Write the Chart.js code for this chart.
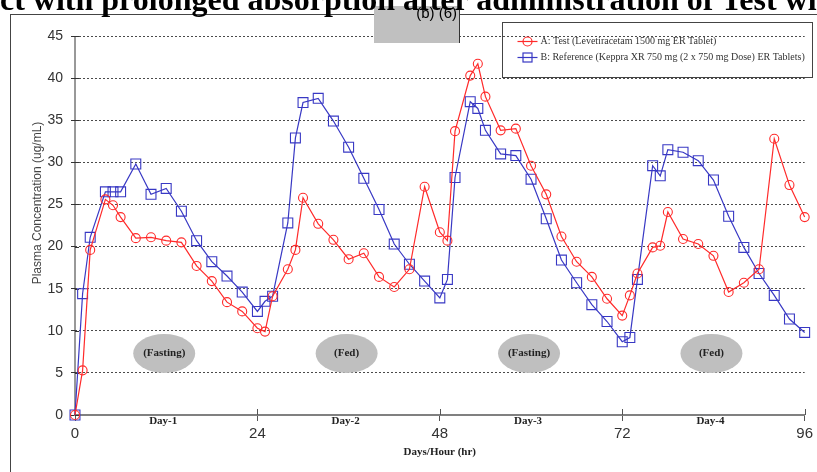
<!DOCTYPE html>
<html>
<head>
<meta charset="utf-8">
<script src="https://cdn.jsdelivr.net/npm/chart.js@4.4.1/dist/chart.umd.min.js"></script>
<style>
    body { margin: 0; background: #fff; overflow: hidden; }
    #wrap { position: relative; width: 817px; height: 472px; overflow: hidden; }
    #heading {
        position: absolute; left: 0; top: -17px; z-index: 3;
        font: bold 32px "Liberation Serif", "Times New Roman", serif;
        line-height: 32px; white-space: nowrap; color: #000;
    }
    #frame {
        position: absolute; left: 10px; top: 14px; width: 900px; height: 600px;
        border-left: 1.5px solid #444; border-top: 1.5px solid #444;
    }
    #redact {
        position: absolute; left: 374px; top: 6px; width: 85px; height: 37px; z-index: 2;
        background: #c0c0c0; border-right: 1px solid #333;
    }
    #redact span {
        position: absolute; right: 2px; top: -2px;
        font: 15px "Liberation Sans", Arial, sans-serif; color: #000;
    }
    #plasma { position: absolute; left: 0; top: 0; z-index: 1; }
</style>
</head>
<body>
<div id="wrap">
    <div id="heading">ct with prolonged absorption after administration of Test wi</div>
    <div id="frame"></div>
    <div id="redact"><span>(b) (6)</span></div>
    <canvas id="plasma" width="817" height="472"></canvas>
</div>
<script>
// sampling times (hr) over the four dosing days
var hours = [0, 1, 2, 4, 5, 6, 8, 10, 12, 14, 16, 18, 20, 22,
    24, 25, 26, 28, 29, 30, 32, 34, 36, 38, 40, 42, 44, 46,
    48, 49, 50, 52, 53, 54, 56, 58, 60, 62, 64, 66, 68, 70,
    72, 73, 74, 76, 77, 78, 80, 82, 84, 86, 88, 90, 92, 94, 96];

// mean plasma levetiracetam (ug/mL)
var testLevels = [0, 5.3, 19.6, 25.6, 24.9, 23.5, 21.0, 21.1, 20.7, 20.5, 17.7, 15.9, 13.4, 12.3,
    10.3, 9.9, 14.1, 17.3, 19.6, 25.8, 22.7, 20.8, 18.5, 19.2, 16.4, 15.2, 17.3, 27.1,
    21.7, 20.7, 33.7, 40.3, 41.7, 37.8, 33.8, 34.0, 29.6, 26.2, 21.2, 18.2, 16.4, 13.8,
    11.8, 14.2, 16.8, 19.9, 20.1, 24.1, 20.9, 20.3, 18.9, 14.6, 15.7, 17.3, 32.8, 27.3, 23.5];

var refLevels = [0, 14.4, 21.1, 26.5, 26.5, 26.5, 29.8, 26.2, 26.9, 24.2, 20.7, 18.2, 16.5, 14.6,
    12.3, 13.5, 14.1, 22.8, 32.9, 37.1, 37.6, 34.9, 31.8, 28.1, 24.4, 20.3, 17.9, 15.9,
    13.9, 16.1, 28.2, 37.2, 36.4, 33.8, 31.0, 30.8, 28.0, 23.3, 18.4, 15.7, 13.1, 11.1,
    8.7, 9.2, 16.1, 29.6, 28.4, 31.5, 31.2, 30.2, 27.9, 23.6, 19.9, 16.8, 14.2, 11.4, 9.8];

var seriesNames = ["A: Test (Levetiracetam 1500 mg ER Tablet)",
    "B: Reference (Keppra XR 750 mg (2 x 750 mg Dose) ER Tablets)"];
var dayNames = ["Day-1", "Day-2", "Day-3", "Day-4"];
var mealNames = ["(Fasting)", "(Fed)", "(Fasting)", "(Fed)"];
var hourTicks = [0, 24, 48, 72, 96];
var levelTicks = [0, 5, 10, 15, 20, 25, 30, 35, 40, 45];

function points(ys) {
    return hours.map(function (h, i) {
        return { x: h, y: ys[i] };
    });
}

var serifBold = "bold 11px 'Liberation Serif', 'Times New Roman', serif";

// extra drawing: meal ellipses, day names, crossing ticks, axis title and boxed legend
var decorations = {
    id: "decorations",
    beforeDatasetsDraw: function (chart) {
        var ctx = chart.ctx, xs = chart.scales.x, ys = chart.scales.y, area = chart.chartArea;
        ctx.save();
        mealNames.forEach(function (name, i) {
            var cx = xs.getPixelForValue(12 + 24 * i) - 2;
            var cy = ys.getPixelForValue(7.3);
            ctx.beginPath();
            ctx.ellipse(cx, cy, 31, 19.5, 0, 0, Math.PI * 2);
            ctx.fillStyle = "#bfbfbf";
            ctx.fill();
            ctx.fillStyle = "#222";
            ctx.font = serifBold;
            ctx.textAlign = "center";
            ctx.textBaseline = "middle";
            ctx.fillText(name, cx, cy);
        });
        // solid y axis with ticks crossing into the plot
        ctx.strokeStyle = "#333";
        ctx.lineWidth = 1;
        ctx.beginPath();
        ctx.moveTo(area.left, area.top);
        ctx.lineTo(area.left, area.bottom);
        levelTicks.forEach(function (v) {
            var py = Math.round(ys.getPixelForValue(v)) + 0.5;
            ctx.moveTo(area.left, py);
            ctx.lineTo(area.left + 4, py);
        });
        ctx.stroke();
        ctx.strokeStyle = "#555";
        ctx.beginPath();
        hourTicks.forEach(function (h) {
            if (h === 0) return;
            var px = Math.round(xs.getPixelForValue(h)) + 0.5;
            ctx.moveTo(px, area.bottom);
            ctx.lineTo(px, area.bottom - 6);
        });
        ctx.stroke();
        dayNames.forEach(function (name, i) {
            ctx.fillStyle = "#222";
            ctx.font = serifBold;
            ctx.textAlign = "center";
            ctx.textBaseline = "middle";
            ctx.fillText(name, xs.getPixelForValue(12 + 24 * i) - 3, area.bottom + 6);
        });
        ctx.translate(38, 203);
        ctx.rotate(-Math.PI / 2);
        ctx.fillStyle = "#444";
        ctx.font = "12px 'Liberation Sans', Arial, sans-serif";
        ctx.textAlign = "center";
        ctx.textBaseline = "middle";
        ctx.fillText("Plasma Concentration (ug/mL)", 0, 0);
        ctx.restore();
    },
    afterDraw: function (chart) {
        var ctx = chart.ctx;
        var lx = 502.5, ly = 22.5, lw = 310, lh = 55;
        ctx.save();
        ctx.strokeStyle = "#444";
        ctx.lineWidth = 1;
        ctx.strokeRect(lx, ly, lw, lh);
        chart.data.datasets.forEach(function (ds, i) {
            var ey = ly + 19 + i * 16;
            ctx.strokeStyle = ds.borderColor;
            ctx.lineWidth = 1.2;
            ctx.beginPath();
            ctx.moveTo(lx + 15, ey);
            ctx.lineTo(lx + 35, ey);
            ctx.stroke();
            if (ds.pointStyle === "rect") {
                ctx.strokeRect(lx + 20.5, ey - 4.5, 9, 9);
            } else {
                ctx.beginPath();
                ctx.arc(lx + 25, ey, 4.5, 0, Math.PI * 2);
                ctx.stroke();
            }
            ctx.fillStyle = "#333";
            ctx.font = "10px 'Liberation Serif', 'Times New Roman', serif";
            ctx.textAlign = "left";
            ctx.textBaseline = "middle";
            ctx.fillText(ds.label, lx + 38, ey);
        });
        ctx.restore();
    }
};

new Chart("plasma", {
    type: "line",
    data: {
        datasets: [
            {
                label: seriesNames[0],
                data: points(testLevels),
                borderColor: "#ff2a2a",
                borderWidth: 1.2,
                pointStyle: "circle",
                pointRadius: 4.5,
                pointBorderWidth: 1.1,
                pointBorderColor: "#ff2a2a",
                pointBackgroundColor: "rgba(0,0,0,0)",
                tension: 0,
                clip: false
            },
            {
                label: seriesNames[1],
                data: points(refLevels),
                borderColor: "#3838c4",
                borderWidth: 1.2,
                pointStyle: "rect",
                pointRadius: 7,
                pointBorderWidth: 1.1,
                pointBorderColor: "#3838c4",
                pointBackgroundColor: "rgba(0,0,0,0)",
                tension: 0,
                clip: false
            }
        ]
    },
    options: {
        responsive: false,
        animation: false,
        devicePixelRatio: 1,
        layout: { padding: { top: 36, right: 11, left: 0, bottom: 13 } },
        plugins: {
            legend: { display: false },
            tooltip: { enabled: false }
        },
        scales: {
            x: {
                type: "linear",
                min: 0,
                max: 96,
                afterFit: function (scale) { scale.height = 44; },
                afterBuildTicks: function (scale) {
                    scale.ticks = hourTicks.map(function (v) { return { value: v }; });
                },
                grid: { drawOnChartArea: false, drawTicks: true, tickLength: 6, tickColor: "#555" },
                border: { display: true, color: "#808080", width: 2 },
                ticks: {
                    padding: 4,
                    color: "#333",
                    maxRotation: 0,
                    font: { family: "'Liberation Sans', Arial", size: 15 }
                },
                title: {
                    display: true,
                    text: "Days/Hour (hr)",
                    color: "#222",
                    padding: 0,
                    font: { family: "'Liberation Serif', 'Times New Roman', serif", size: 11, weight: "bold" }
                }
            },
            y: {
                min: 0,
                max: 45,
                afterFit: function (scale) { scale.width = 75; },
                afterBuildTicks: function (scale) {
                    scale.ticks = levelTicks.map(function (v) { return { value: v }; });
                },
                grid: { color: "#4a4a4a", lineWidth: 1, drawTicks: true, tickLength: 4, tickColor: "#333" },
                border: { display: false, dash: [2, 2] },
                ticks: {
                    padding: 8,
                    color: "#333",
                    font: { family: "'Liberation Sans', Arial", size: 14 }
                }
            }
        }
    },
    plugins: [decorations]
});
</script>
</body>
</html>
